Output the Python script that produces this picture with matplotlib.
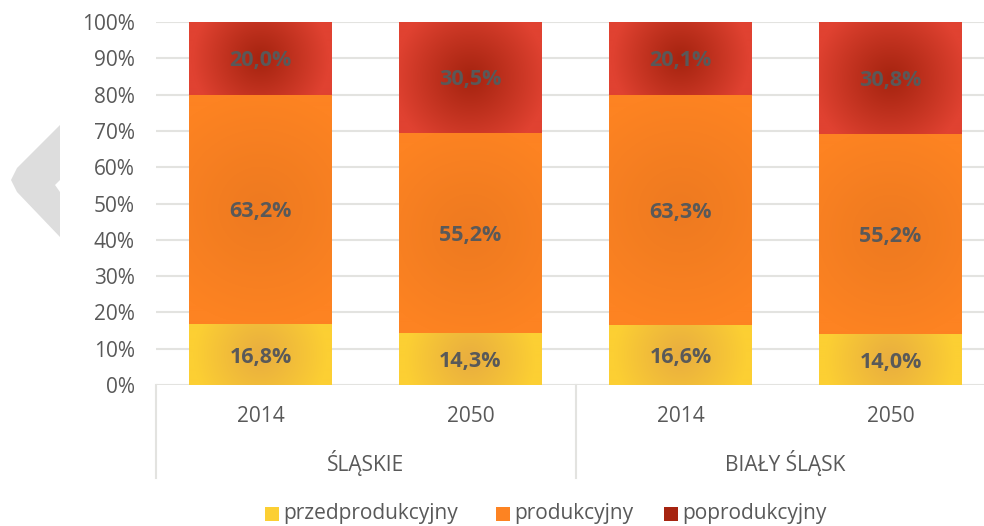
import numpy as np
import matplotlib
matplotlib.use("Agg")
import matplotlib.pyplot as plt
from matplotlib.patches import Rectangle, Polygon
from matplotlib.colors import to_rgb

years = ["2014", "2050", "2014", "2050"]
groups = ["ŚLĄSKIE", "BIAŁY ŚLĄSK"]
series_names = ["przedprodukcyjny", "produkcyjny", "poprodukcyjny"]
przed = [16.8, 14.3, 16.6, 14.0]
prod = [63.2, 55.2, 63.3, 55.2]
popr = [20.0, 30.5, 20.1, 30.8]
yticks = [0, 10, 20, 30, 40, 50, 60, 70, 80, 90, 100]

edge_cols = ["#FCCF33", "#FD8322", "#E04231"]
center_cols = ["#E9AE3F", "#EE7A20", "#A62410"]

W, H = 984, 526
fig = plt.figure(figsize=(W / 100, H / 100), dpi=100)
fontfam = ["Open Sans", "DejaVu Sans"]
plt.rcParams['font.family'] = fontfam
txtc = "#595959"

ax_l, ax_r = 155.5, 995.5
ax_t, ax_b = 22, 385
ax = fig.add_axes([ax_l / W, (H - ax_b) / H, (ax_r - ax_l) / W, (ax_b - ax_t) / H])
ax.set_xlim(-0.5, 3.5)
ax.set_ylim(0, 100)
ax.set_yticks(yticks)
ax.set_yticklabels([f"{v}%" for v in yticks])
ax.tick_params(axis='y', length=0, labelsize=15, labelcolor=txtc, pad=15)
ax.set_xticks([])
for s in ax.spines.values():
    s.set_visible(False)
for v in yticks:
    ax.axhline(v, color="#E3E3E0", lw=1.5, zorder=0)

px_per_x = (ax_r - ax_l) / 4.0
px_per_y = (ax_b - ax_t) / 100.0
bw = 143 / px_per_x

def grad_bar(x, bottom, height, c_edge, c_center):
    x0 = x - bw / 2
    wpx = bw * px_per_x
    hpx = height * px_per_y
    nx, ny = int(max(wpx, 2)), int(max(hpx, 2))
    xs = (np.arange(nx) + 0.5 - nx / 2)
    ys = (np.arange(ny) + 0.5 - ny / 2)
    X, Y = np.meshgrid(xs, ys)
    R = 0.5 * np.sqrt(wpx ** 2 + hpx ** 2) * 0.85
    t = np.clip(np.sqrt(X ** 2 + Y ** 2) / R, 0, 1)
    t = t ** 1.1
    ce = np.array(to_rgb(c_edge))
    cc = np.array(to_rgb(c_center))
    img = cc[None, None, :] * (1 - t[..., None]) + ce[None, None, :] * t[..., None]
    im = ax.imshow(img, extent=(x0, x0 + bw, bottom, bottom + height), aspect='auto',
                   origin='lower', interpolation='bilinear', zorder=2)
    rect = Rectangle((x0, bottom), bw, height, transform=ax.transData, fc='none', ec='none')
    ax.add_patch(rect)
    im.set_clip_path(rect)

xpos = np.arange(len(years))
for i in range(len(years)):
    bottom = 0
    for k, vals in enumerate([przed, prod, popr]):
        v = vals[i]
        grad_bar(xpos[i], bottom, v, edge_cols[k], center_cols[k])
        ax.text(xpos[i], bottom + v / 2, f"{v:.1f}%".replace(".", ","), ha='center',
                va='center_baseline', fontsize=15.5, fontweight='bold', color=txtc, zorder=5)
        bottom += v
ax.set_xlim(-0.5, 3.5)
ax.set_ylim(0, 100)

def fx(px):
    return px / W
def fy(py):
    return (H - py) / H

for i, yr in enumerate(years):
    cx = ax_l + px_per_x * (i + 0.5)
    fig.text(fx(cx), fy(416), yr, ha='center', va='center', fontsize=15, color=txtc)
for j, g in enumerate(groups):
    cx = ax_l + px_per_x * (2 * j + 1)
    fig.text(fx(cx), fy(463), g, ha='center', va='center', fontsize=15, color=txtc)
for sx in [ax_l, ax_l + 2 * px_per_x, ax_r]:
    fig.add_artist(plt.Line2D([fx(sx), fx(sx)], [fy(385), fy(478)], color="#E3E3E0", lw=1.5))

chev = Polygon([[fx(60), fy(125)], [fx(17), fy(168)], [fx(11), fy(180)], [fx(17), fy(192)],
                [fx(60), fy(237)], [fx(60), fy(192)], [fx(55), fy(185)], [fx(60), fy(180)]],
               closed=True, transform=fig.transFigure, fc="#DDDDDD", ec='none', zorder=-1)
fig.add_artist(chev)

leg_items = [(265, series_names[0]), (496, series_names[1]), (664, series_names[2])]
for k, (lx, name) in enumerate(leg_items):
    sq = Rectangle((fx(lx), fy(521)), 14 / W, 14 / H, transform=fig.transFigure,
                   fc=center_cols[k] if k == 2 else edge_cols[k], ec='none')
    fig.add_artist(sq)
    fig.text(fx(lx + 18), fy(513), name, ha='left', va='center', fontsize=15, color=txtc)

fig.savefig("out.png", dpi=100)
